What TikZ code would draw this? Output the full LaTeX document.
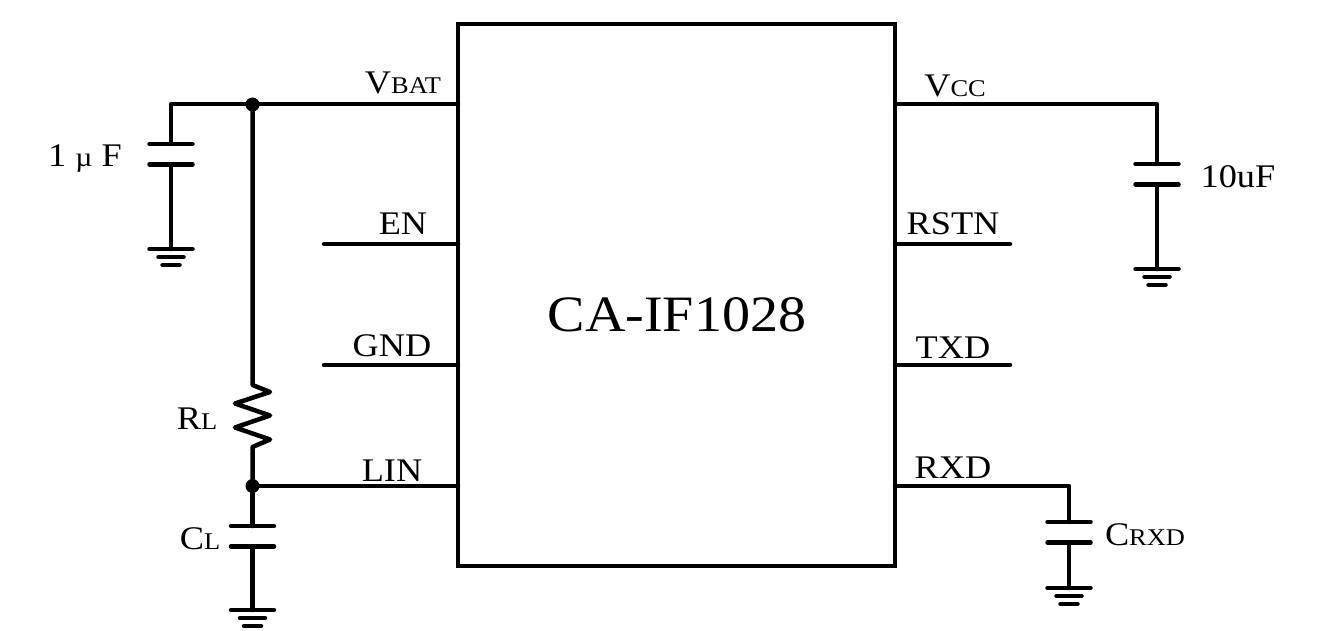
\documentclass[tikz,border=0pt]{standalone}
\usepackage{fontspec}
\setmainfont[FakeStretch=1.1]{Liberation Serif}
\usetikzlibrary{calc,positioning}
\newcommand{\lowcaps}[1]{{\fontsize{24}{24}\selectfont #1}}
% capacitor plates: name, x, y of upper plate
\newcommand{\capsym}[3]{
  \coordinate (#1t) at (#2,#3);
  \coordinate (#1b) at (#2,#3+20.5);
  \draw[wire] ($(#1t)+(-21.5,0)$) -- ($(#1t)+(21.5,0)$);
  \draw[wire] ($(#1b)+(-21.5,0)$) -- ($(#1b)+(21.5,0)$);
}
% ground: name, x, y of top bar
\newcommand{\gndsym}[3]{
  \coordinate (#1) at (#2,#3);
  \draw[wire] ($(#1)+(-21.5,0)$) -- ($(#1)+(21.5,0)$);
  \draw[wire] ($(#1)+(-12.5,8)$) -- ($(#1)+(12.5,8)$);
  \draw[wire] ($(#1)+(-8.5,16)$) -- ($(#1)+(8.5,16)$);
}
\begin{document}
\begin{tikzpicture}[
  x=1pt, y=-1pt,
  wire/.style={line width=4.5pt, line cap=round, line join=round, color=black},
  chip/.style={draw, line width=4.5pt, minimum width=437pt, minimum height=542pt, inner sep=0pt},
  pinlabel/.style={anchor=base, inner sep=0pt, font=\fontsize{33}{33}\selectfont},
  dot/.style={circle, fill=black, minimum size=14pt, inner sep=0pt}
]
  \useasboundingbox (0,0) rectangle (1317,631);

  \node[chip] (ic) at (676.5,295) {};
  \node[pinlabel, font=\fontsize{51}{51}\selectfont] (icname) at (677,331) {CA-IF1028};

  % pin ends on the chip
  \coordinate (vbat) at (458,104);
  \coordinate (en) at (458,244);
  \coordinate (gnd) at (458,365);
  \coordinate (lin) at (458,486);
  \coordinate (vcc) at (895,104);
  \coordinate (rstn) at (895,244);
  \coordinate (txd) at (895,365);
  \coordinate (rxd) at (895,486);

  \node[pinlabel] (lbat) at (403,94) {V\lowcaps{BAT}};
  \node[pinlabel] (len) at (403,235) {EN};
  \node[pinlabel] (lgnd) at (392,356.5) {GND};
  \node[pinlabel] (llin) at (392,481) {LIN};
  \node[pinlabel] (lvcc) at (955,97) {V\lowcaps{CC}};
  \node[pinlabel] (lrstn) at (953,235) {RSTN};
  \node[pinlabel] (ltxd) at (953,358.5) {TXD};
  \node[pinlabel] (lrxd) at (953,478) {RXD};

  % left side
  \node[dot] (jbat) at (252.5,104.5) {};
  \node[dot] (jlin) at (252.5,486) {};
  \coordinate (cornerl) at (171,104);
  \capsym{c1}{171}{144}
  \gndsym{g1}{171}{249}
  \capsym{cl}{252.5}{526}
  \gndsym{g2}{252.5}{610}
  \draw[wire] (vbat) -- (cornerl) -- (c1t);
  \draw[wire] (c1b) -- (g1);
  \draw[wire] (jlin) -- (clt);
  \draw[wire] (clb) -- (g2);
  \draw[wire] (lin) -- (jlin);

  % load resistor
  \coordinate (rtop) at (252.5,385);
  \coordinate (rbot) at (252.5,447);
  \draw[wire] (jbat) -- (rtop) -- (270,392) -- (235,403.5) -- (270,415.5)
    -- (235,427.5) -- (270,439.5) -- (rbot) -- (jlin);

  \draw[wire] (en) -- (324,244);
  \draw[wire] (gnd) -- (324,365);

  \node[pinlabel] (l1u) at (85,167) {1 {\fontsize{27}{27}\selectfont µ} F};
  \node[pinlabel] (lrl) at (197,429) {R\lowcaps{L}};
  \node[pinlabel] (lcl) at (200,549) {C\lowcaps{L}};

  % right side
  \coordinate (cornerv) at (1157,104);
  \capsym{c2}{1157}{164}
  \gndsym{g3}{1157}{269}
  \draw[wire] (vcc) -- (cornerv) -- (c2t);
  \draw[wire] (c2b) -- (g3);
  \draw[wire] (rstn) -- (1010,244);
  \draw[wire] (txd) -- (1010,365);

  \coordinate (cornerr) at (1069,486);
  \capsym{c3}{1069}{522}
  \gndsym{g4}{1069}{588}
  \draw[wire] (rxd) -- (cornerr) -- (c3t);
  \draw[wire] (c3b) -- (g4);

  \node[pinlabel] (l10u) at (1238,188) {10uF};
  \node[pinlabel] (lcrxd) at (1145,545) {C\lowcaps{RXD}};
\end{tikzpicture}
\end{document}
